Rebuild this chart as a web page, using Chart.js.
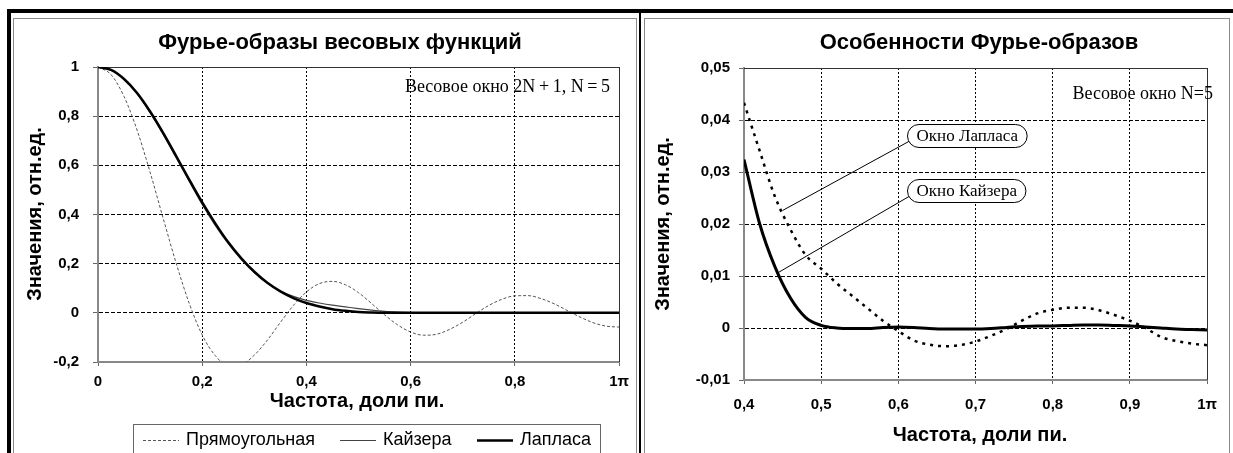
<!DOCTYPE html>
<html><head><meta charset="utf-8">
<script src="https://cdn.jsdelivr.net/npm/chart.js@4.4.1/dist/chart.umd.min.js"></script>
<style>
html,body{margin:0;padding:0;background:#fff;}
body{width:1233px;height:453px;overflow:hidden;position:relative;}
.blk{position:absolute;background:#000;}
.box{position:absolute;box-sizing:border-box;border:1px solid #8a8a8a;border-bottom:none;}
canvas{position:absolute;}
</style>
</head><body>
<div class="blk" style="left:7px;top:9px;width:1226px;height:4px"></div>
<div class="blk" style="left:7px;top:9px;width:4px;height:460px"></div>
<div class="box" style="left:13px;top:18px;width:624px;height:460px"></div>
<div class="blk" style="left:639px;top:9px;width:2px;height:460px"></div>
<div class="box" style="left:644px;top:18px;width:586px;height:460px"></div>
<canvas id="cA" width="622" height="450" style="left:14px;top:19px"></canvas>
<canvas id="cB" width="583" height="450" style="left:646px;top:19px"></canvas>
<script>
// ---------- Left chart data ----------
const freqA = [0,0.025,0.05,0.075,0.1,0.125,0.15,0.175,0.2,0.225,0.25,0.275,0.3,0.325,0.35,0.375,0.4,0.425,0.45,0.475,0.5,0.525,0.55,0.575,0.6,0.625,0.65,0.675,0.7,0.725,0.75,0.775,0.8,0.825,0.85,0.875,0.9,0.925,0.95,0.975,1];
const rectA = [1,0.969,0.880,0.743,0.572,0.385,0.202,0.039,-0.090,-0.174,-0.214,-0.210,-0.172,-0.111,-0.039,0.030,0.085,0.119,0.128,0.114,0.082,0.038,-0.008,-0.049,-0.078,-0.091,-0.087,-0.067,-0.038,-0.003,0.030,0.055,0.069,0.070,0.058,0.037,0.010,-0.017,-0.040,-0.054,-0.058];
const kaiserA = [1,0.988,0.950,0.891,0.814,0.726,0.631,0.535,0.441,0.356,0.281,0.217,0.164,0.121,0.089,0.067,0.051,0.040,0.031,0.024,0.017,0.011,0.006,0.003,0.001,0,0,0,0,0,0,0,0,0,0,0,0,0,0,0,0];
const laplaceA = [1,0.988,0.951,0.894,0.819,0.732,0.638,0.542,0.449,0.364,0.287,0.222,0.167,0.122,0.087,0.060,0.040,0.026,0.015,0.008,0.003,0.001,0,0,0,0,0,0,0,0,0,0,0,0,0,0,0,0,0,0,0];
const xTicksA = ['0','0,2','0,4','0,6','0,8','1π'];
const yTicksA = ['-0,2','0','0,2','0,4','0,6','0,8','1'];
const namesA = ['Прямоугольная','Кайзера','Лапласа'];

// ---------- Right chart data ----------
const freqB = [0.40,0.42,0.44,0.46,0.48,0.50,0.52,0.54,0.56,0.58,0.60,0.62,0.64,0.66,0.68,0.70,0.72,0.74,0.76,0.78,0.80,0.82,0.84,0.86,0.88,0.90,0.92,0.94,0.96,0.98,1.00];
const laplaceB = [0.0433,0.0342,0.0253,0.0190,0.0140,0.0114,0.0086,0.0062,0.0038,0.0014,-0.0006,-0.0024,-0.0032,-0.0035,-0.0033,-0.0026,-0.0015,-0.0002,0.0014,0.0028,0.0035,0.0039,0.0039,0.0034,0.0025,0.0014,0.0000,-0.0017,-0.0025,-0.0030,-0.0033];
const kaiserB = [0.0324,0.0202,0.0118,0.0058,0.0020,0.0005,0.0000,-0.0001,-0.0001,0.0001,0.0002,0.0001,-0.0001,-0.0002,-0.0002,-0.0002,-0.0001,0.0001,0.0003,0.0004,0.0004,0.0005,0.0006,0.0006,0.0005,0.0004,0.0002,0.0000,-0.0002,-0.0003,-0.0004];
const xTicksB = ['0,4','0,5','0,6','0,7','0,8','0,9','1π'];
const yTicksB = ['-0,01','0','0,01','0,02','0,03','0,04','0,05'];
const namesB = ['Окно Лапласа','Окно Кайзера'];

// ---------- helpers ----------
const SANS = "'Liberation Sans', Arial, sans-serif";
const NARROW = "'Liberation Sans Narrow', 'Liberation Sans', Arial, sans-serif";
const SERIF = "'Liberation Serif', 'Times New Roman', serif";
const pts = (xs, ys) => xs.map((x, i) => ({x: x, y: ys[i]}));

function txt(ctx, s, x, y, font, align, rot) {
  ctx.save();
  ctx.font = font; ctx.fillStyle = '#000';
  ctx.textAlign = align || 'center'; ctx.textBaseline = 'middle';
  ctx.translate(x, y); if (rot) ctx.rotate(rot);
  ctx.fillText(s, 0, 0);
  ctx.restore();
}
function plotFrame(chart) {
  const a = chart.chartArea, c = chart.ctx;
  c.save(); c.strokeStyle = '#333'; c.lineWidth = 1;
  const t = Math.round(a.top) + 0.5, r = Math.round(a.right) + 0.5;
  c.beginPath(); c.moveTo(a.left, t); c.lineTo(r, t); c.lineTo(r, a.bottom); c.stroke();
  c.restore();
}
function makeScales(o) {
  return {
    x: {
      type: 'linear', min: o.xmin, max: o.xmax,
      afterFit: s => { s.height = o.xH; },
      ticks: { stepSize: o.xstep, autoSkip: false, maxRotation: 0, padding: o.xPad, color: '#000',
               font: {family: NARROW, size: 15, weight: 'bold', lineHeight: 1.2},
               callback: (v, i) => o.xl[i] },
      grid: { color: '#000', lineWidth: 1, tickLength: 4, tickColor: '#666', tickBorderDash: [] },
      border: { display: true, color: '#888', width: 2, dash: [2, 2] }
    },
    y: {
      type: 'linear', min: o.ymin, max: o.ymax,
      afterFit: s => { s.width = o.yW; },
      ticks: { stepSize: o.ystep, autoSkip: false, padding: o.yPad, color: '#000',
               font: {family: NARROW, size: 15, weight: 'bold', lineHeight: 1.2},
               callback: (v, i) => o.yl[i] },
      grid: { color: '#000', lineWidth: 1, tickLength: 5, tickColor: '#666', tickBorderDash: [] },
      border: { display: true, color: '#888', width: 2, dash: [4, 2] }
    }
  };
}
const baseOpts = { responsive: false, animation: false, events: [], devicePixelRatio: 1,
  plugins: { legend: {display: false}, tooltip: {enabled: false}, title: {display: false} } };

// ---------- Left chart ----------
const decorA = {
  id: 'decorA',
  beforeDatasetsDraw: plotFrame,
  afterDraw(chart) {
    const c = chart.ctx;
    txt(c, 'Фурье-образы весовых функций', 326, 24, 'bold 22px ' + SANS);
    txt(c, 'Значения, отн.ед.', 21, 195, 'bold 20px ' + SANS, 'center', -Math.PI / 2);
    txt(c, 'Частота, доли пи.', 343, 382, 'bold 20px ' + SANS);
    txt(c, 'Весовое окно 2N\u2009+\u20091, N\u2009=\u20095', 596, 68, '18px ' + SERIF, 'right');
    // legend
    c.save();
    c.strokeStyle = '#666'; c.lineWidth = 1;
    c.strokeRect(119.5, 405.5, 467, 40);
    const starts = [129, 326, 463];
    chart.data.datasets.forEach((d, i) => {
      const y = 421.5, x = starts[i];
      c.save();
      c.strokeStyle = d.borderColor; c.lineWidth = d.borderWidth; c.setLineDash(d.borderDash || []);
      c.beginPath(); c.moveTo(x, y); c.lineTo(x + 36, y); c.stroke();
      c.restore();
      txt(c, d.label, x + 43, y, '18px ' + SANS, 'left');
    });
    c.restore();
  }
};
new Chart(document.getElementById('cA'), {
  type: 'line',
  data: { datasets: [
    { label: namesA[0], data: pts(freqA, rectA), borderColor: '#555', borderWidth: 1, borderDash: [3, 2], pointRadius: 0, cubicInterpolationMode: 'monotone', order: 2 },
    { label: namesA[1], data: pts(freqA, kaiserA), borderColor: '#444', borderWidth: 1.2, pointRadius: 0, cubicInterpolationMode: 'monotone', order: 1 },
    { label: namesA[2], data: pts(freqA, laplaceA), borderColor: '#000', borderWidth: 2.5, pointRadius: 0, cubicInterpolationMode: 'monotone', order: 0 }
  ]},
  options: Object.assign({}, baseOpts, {
    layout: { padding: {left: 0, top: 48, right: 14, bottom: 0} },
    scales: makeScales({xmin: 0, xmax: 1, xstep: 0.2, xl: xTicksA, ymin: -0.2, ymax: 1, ystep: 0.2, yl: yTicksA, yW: 84, xH: 107, yPad: 14, xPad: 7})
  }),
  plugins: [decorA]
});

// ---------- Right chart ----------
const calloutsB = [
  {name: 0, atX: 0.45, atY: 0.0226, boxX: 0.611, boxY: 0.0371},
  {name: 1, atX: 0.4437, atY: 0.0106, boxX: 0.611, boxY: 0.0265}
];
const decorB = {
  id: 'decorB',
  beforeDatasetsDraw: plotFrame,
  afterDatasetsDraw(chart) {
    const c = chart.ctx, xs = chart.scales.x, ys = chart.scales.y;
    calloutsB.forEach(k => {
      const px = xs.getPixelForValue(k.atX), py = ys.getPixelForValue(k.atY);
      const bx = Math.round(xs.getPixelForValue(k.boxX)) + 0.5, by = ys.getPixelForValue(k.boxY);
      c.save();
      c.font = '17px ' + SERIF;
      const w = c.measureText(namesB[k.name]).width + 18, h = 23;
      c.strokeStyle = '#000'; c.lineWidth = 1;
      c.beginPath(); c.moveTo(px, py); c.lineTo(bx + 2, by + 6); c.stroke();
      const top = Math.round(by - h / 2) + 0.5;
      c.beginPath(); c.roundRect(bx, top, w, h, h / 2);
      c.fillStyle = '#fff'; c.fill(); c.stroke();
      c.restore();
      txt(c, namesB[k.name], bx + w / 2, top + h / 2 + 1, '17px ' + SERIF);
    });
  },
  afterDraw(chart) {
    const c = chart.ctx;
    txt(c, 'Особенности Фурье-образов', 333, 24, 'bold 22px ' + SANS);
    txt(c, 'Значения, отн.ед.', 17, 205, 'bold 20px ' + SANS, 'center', -Math.PI / 2);
    txt(c, 'Частота, доли пи.', 334, 416, 'bold 20px ' + SANS);
    txt(c, 'Весовое окно N=5', 567, 75, '18px ' + SERIF, 'right');
  }
};
new Chart(document.getElementById('cB'), {
  type: 'line',
  data: { datasets: [
    { label: namesB[0], data: pts(freqB, laplaceB), borderColor: '#000', borderWidth: 2.5, borderDash: [3, 5], pointRadius: 0, cubicInterpolationMode: 'monotone', order: 1 },
    { label: namesB[1], data: pts(freqB, kaiserB), borderColor: '#000', borderWidth: 3, pointRadius: 0, cubicInterpolationMode: 'monotone', order: 0 }
  ]},
  options: Object.assign({}, baseOpts, {
    layout: { padding: {left: 0, top: 49, right: 13, bottom: 0} },
    scales: makeScales({xmin: 0.4, xmax: 1, xstep: 0.1, xl: xTicksB, ymin: -0.01, ymax: 0.05, ystep: 0.01, yl: yTicksB, yW: 98, xH: 89, yPad: 9, xPad: 12})
  }),
  plugins: [decorB]
});
</script>
</body></html>
